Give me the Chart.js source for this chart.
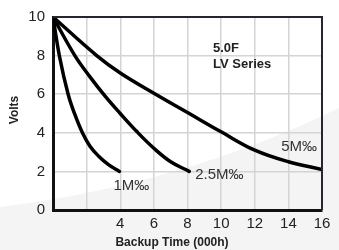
<!DOCTYPE html>
<html>
<head>
<meta charset="utf-8">
<script src="https://cdn.jsdelivr.net/npm/chart.js@4/dist/chart.umd.min.js"></script>
<style>
  html, body { margin: 0; padding: 0; background: #fff; }
  #wrap { width: 339px; height: 250px; }
</style>
</head>
<body>
<div id="wrap"><canvas id="chart" width="339" height="250"></canvas></div>
<script>
// ── Data ────────────────────────────────────────────────────────────────────
const xTicks = [0, 2, 4, 6, 8, 10, 12, 14, 16];
const yTicks = [0, 2, 4, 6, 8, 10];

const seriesNames = ["1M‰", "2.5M‰", "5M‰"];

const time1M  = [0, 0.4, 0.9, 1.3, 1.75, 2.2, 2.7, 3.3, 3.95];
const volts1M = [10, 7.9, 6, 4.95, 4, 3.3, 2.8, 2.35, 2];

const time25M  = [0, 1.3, 2.2, 3.1, 4, 5, 6, 7, 8.1];
const volts25M = [10, 8, 6.9, 5.9, 5.0, 4.05, 3.2, 2.5, 2];

const time5M  = [0, 2.6, 4, 6, 8, 10, 12, 14, 16];
const volts5M = [10, 8, 7.1, 6.05, 5.05, 4.05, 3.1, 2.5, 2.1];

const noteLines = ["5.0F", "LV Series"];
const xTitle = "Backup Time (000h)";
const yTitle = "Volts";

const toPoints = (xs, ys) => xs.map((x, i) => ({ x, y: ys[i] }));

// ── Plugins ─────────────────────────────────────────────────────────────────
const backdrop = {
  id: "backdrop",
  beforeDraw(chart) {
    const { ctx, width, height } = chart;
    ctx.save();
    ctx.fillStyle = "#fff";
    ctx.fillRect(0, 0, width, height);
    ctx.fillStyle = "#f4f4f4";
    ctx.beginPath();
    ctx.moveTo(0, 207);
    ctx.quadraticCurveTo(180, 185, width, 108);
    ctx.lineTo(width, height);
    ctx.lineTo(0, height);
    ctx.closePath();
    ctx.fill();
    ctx.restore();
  },
};

const frame = {
  id: "frame",
  afterDatasetsDraw(chart) {
    const { ctx, chartArea: a } = chart;
    ctx.save();
    ctx.strokeStyle = "#262630";
    ctx.lineWidth = 2;
    ctx.beginPath();
    ctx.moveTo(a.left, a.top);
    ctx.lineTo(a.right, a.top);
    ctx.lineTo(a.right, a.bottom);
    ctx.stroke();
    ctx.restore();
  },
};

const labels = {
  id: "labels",
  afterDraw(chart) {
    const { ctx, scales } = chart;
    const xs = scales.x, ys = scales.y;
    ctx.save();

    // series labels next to the curve ends
    const ends = [
      { t: time1M,  v: volts1M,  dx: 12, dy: 14,  align: "center" },
      { t: time25M, v: volts25M, dx: 6,  dy: 3,   align: "left" },
      { t: time5M,  v: volts5M,  dx: -5, dy: -23, align: "right" },
    ];
    ctx.font = "15px 'Liberation Sans', Arial, sans-serif";
    ctx.fillStyle = "#333";
    ctx.textBaseline = "middle";
    ends.forEach((e, i) => {
      const px = xs.getPixelForValue(e.t[e.t.length - 1]);
      const py = ys.getPixelForValue(e.v[e.v.length - 1]);
      ctx.textAlign = e.align;
      ctx.fillText(seriesNames[i], px + e.dx, py + e.dy);
    });

    // note
    ctx.font = "bold 13px 'Liberation Sans', Arial, sans-serif";
    ctx.fillStyle = "#222";
    ctx.textAlign = "left";
    noteLines.forEach((line, i) => ctx.fillText(line, 213, 48 + i * 16));

    // axis titles
    ctx.font = "bold 12px 'Liberation Sans', Arial, sans-serif";
    ctx.textAlign = "center";
    ctx.fillText(xTitle, 172, 243);
    ctx.translate(15, 110);
    ctx.rotate(-Math.PI / 2);
    ctx.fillText(yTitle, 0, 0);
    ctx.restore();
  },
};

// ── Chart ───────────────────────────────────────────────────────────────────
const lineStyle = {
  borderColor: "#000",
  borderWidth: 3.5,
  borderCapStyle: "round",
  borderJoinStyle: "round",
  pointRadius: 0,
  tension: 0.4,
  fill: false,
};

new Chart(document.getElementById("chart"), {
  type: "line",
  data: {
    datasets: [
      { label: seriesNames[0], data: toPoints(time1M, volts1M), ...lineStyle },
      { label: seriesNames[1], data: toPoints(time25M, volts25M), ...lineStyle },
      { label: seriesNames[2], data: toPoints(time5M, volts5M), ...lineStyle },
    ],
  },
  options: {
    responsive: false,
    animation: false,
    layout: { padding: { top: 17, right: 17, left: 0, bottom: 0 } },
    plugins: {
      legend: { display: false },
      tooltip: { enabled: false },
    },
    scales: {
      x: {
        type: "linear",
        min: xTicks[0],
        max: xTicks[xTicks.length - 1],
        afterBuildTicks: (s) => { s.ticks = xTicks.map((v) => ({ value: v })); },
        afterFit: (s) => { s.height = 40; },
        grid: { color: "#d4d4d4", lineWidth: 1.5, drawTicks: false },
        border: { color: "#111", width: 3 },
        ticks: {
          padding: 5,
          color: "#222",
          font: { size: 15, family: "'Liberation Sans', Arial, sans-serif" },
          callback: (v) => (v < 4 ? "" : v),
        },
      },
      y: {
        min: yTicks[0],
        max: yTicks[yTicks.length - 1],
        afterBuildTicks: (s) => { s.ticks = yTicks.map((v) => ({ value: v })); },
        afterFit: (s) => { s.width = 53; },
        grid: { color: "#d4d4d4", lineWidth: 1.5, drawTicks: false },
        border: { color: "#111", width: 3 },
        ticks: {
          padding: 8,
          color: "#222",
          font: { size: 15, family: "'Liberation Sans', Arial, sans-serif" },
        },
      },
    },
  },
  plugins: [backdrop, frame, labels],
});
</script>
</body>
</html>
